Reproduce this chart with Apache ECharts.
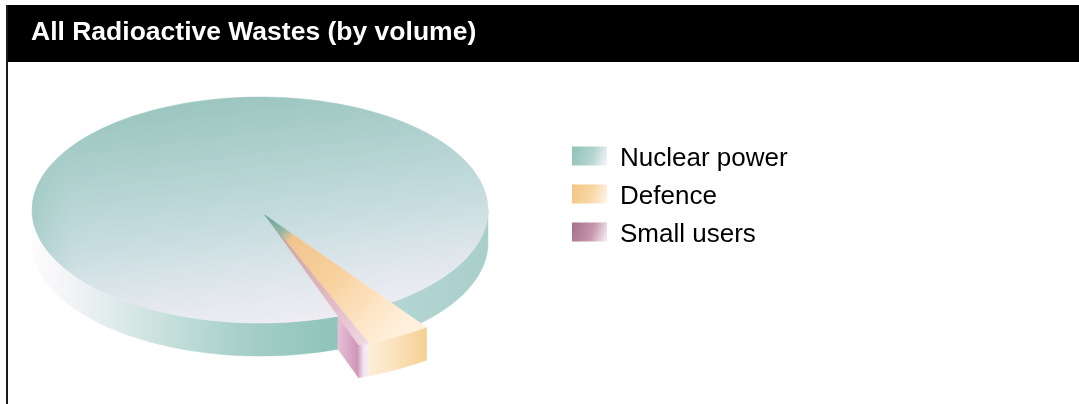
<!DOCTYPE html>
<html>
<head>
<meta charset="utf-8">
<style>html,body{margin:0;padding:0;background:#fff}#chart{width:1079px;height:404px}</style>
<script src="https://cdn.jsdelivr.net/npm/echarts@6/dist/echarts.min.js"></script>
</head>
<body>
<div id="chart"></div>
<script>
// Share of radioactive waste volume, in percent
const categories = ['Nuclear power', 'Defence', 'Small users'];
const volumes = [95.6, 3.8, 0.6];
const chartTitle = 'All Radioactive Wastes (by volume)';

// Tilted disc geometry
const DISC = { cx: 260, cy: 210, rx: 228, ry: 113, depth: 33 };
const APEX = { x: 265, y: 215 };
const START_ANGLE = 54.5;      // where the Defence slice begins, degrees clockwise from east
const EXPLODE = 1.22;          // outer radius of the two pulled-out slices

const rad = d => d * Math.PI / 180;
const total = volumes.reduce((a, b) => a + b, 0);
const sweep = v => v / total * 360;

const defenceFrom = START_ANGLE;
const defenceTo = defenceFrom + sweep(volumes[1]);
const smallTo = defenceTo + sweep(volumes[2]);

// Point on the exploded outer edge, measured around the apex
const outerPoint = a => [
  APEX.x + DISC.rx * EXPLODE * Math.cos(rad(a)),
  APEX.y + DISC.ry * EXPLODE * Math.sin(rad(a))
];
// Where a ray from the apex leaves the disc, as a point on the rim
const rimPoint = a => {
  const ax = (APEX.x - DISC.cx) / DISC.rx, ay = (APEX.y - DISC.cy) / DISC.ry;
  const dx = Math.cos(rad(a)), dy = Math.sin(rad(a));
  const b = ax * dx + ay * dy, c = ax * ax + ay * ay - 1;
  const t = -b + Math.sqrt(b * b - c);
  return [DISC.cx + DISC.rx * (ax + t * dx), DISC.cy + DISC.ry * (ay + t * dy)];
};
const rimAngle = a => {
  const p = rimPoint(a);
  return Math.atan2((p[1] - DISC.cy) / DISC.ry, (p[0] - DISC.cx) / DISC.rx) * 180 / Math.PI;
};
const arc = (from, to, dy) => {
  const pts = [], n = Math.max(2, Math.ceil(Math.abs(to - from) / 2));
  for (let i = 0; i <= n; i++) {
    const a = rad(from + (to - from) * i / n);
    pts.push([DISC.cx + DISC.rx * Math.cos(a), DISC.cy + dy + DISC.ry * Math.sin(a)]);
  }
  return pts;
};
const down = p => [p[0], p[1] + DISC.depth];
const stops = list => list.map(s => ({ offset: s[0], color: s[1] }));
const grad = (x, y, x2, y2, list) => ({ type: 'linear', global: true, x, y, x2, y2, colorStops: stops(list) });
const poly = (points, fill) => ({ type: 'polygon', shape: { points }, style: { fill, stroke: fill, lineWidth: 0.5 } });

// Rim band between two angles on the near side of the disc
const rimBand = (from, to, fill) => {
  const top = arc(from, to, 0), bottom = arc(to, from, DISC.depth);
  return poly(top.concat(bottom), fill);
};

const sideFill = grad(32, 0, 487, 0, [
  [0, '#fcfcfd'], [0.08, '#f4f4f7'], [0.2, '#dbe9e8'], [0.45, '#a8d0c9'],
  [0.66, '#8fc4bb'], [0.8, '#b4d5d3'], [1, '#a9cfcb']
]);
const faceFill = grad(235, 97, 265, 325, [
  [0, '#9cc6c0'], [0.3, '#b2d2d0'], [0.55, '#c6dcde'], [0.85, '#e3e8ee'], [1, '#ededf2']
]);
const faceEdgeFill = grad(32, 0, 487, 0, [
  [0, 'rgba(150,198,190,0.55)'], [0.1, 'rgba(170,208,203,0)'], [1, 'rgba(170,208,203,0)']
]);

const tip = [APEX.x, APEX.y];
const tipDir = outerPoint((defenceFrom + smallTo) / 2);
const defenceTopFill = grad(APEX.x, APEX.y, tipDir[0], tipDir[1], [
  [0, '#5f9f96'], [0.13, '#8fb8a5'], [0.2, '#f0c48f'], [0.5, '#f8d09a'], [0.8, '#fde4c4'], [1, '#fef0dc']
]);
const smallTopFill = grad(APEX.x, APEX.y, tipDir[0], tipDir[1], [
  [0, '#5f9f96'], [0.2, '#cfa7a0'], [0.6, '#e2b8c6'], [1, '#f3e0ea']
]);

// Each slice is drawn from its share of the total
function renderNuclear() {
  const from = rimAngle(smallTo), to = rimAngle(defenceFrom) + 360;
  const top = [tip].concat(arc(from, to, 0));
  return {
    type: 'group',
    children: [
      rimBand(0, rimAngle(defenceFrom), sideFill),
      rimBand(from, 180, sideFill),
      poly(top, faceFill),
      { type: 'polygon', shape: { points: top }, style: { fill: faceEdgeFill } }
    ]
  };
}
function renderDefence() {
  const outer = [];
  for (let i = 0; i <= 6; i++) outer.push(outerPoint(defenceFrom + (defenceTo - defenceFrom) * i / 6));
  const a = outer[0], b = outer[outer.length - 1];
  return {
    type: 'group',
    children: [
      poly(outer.concat(outer.slice().reverse().map(down)),
        grad(b[0], 0, a[0], 0, [[0, '#fdeed8'], [0.45, '#fbe3bd'], [1, '#f4cf92']])),
      poly([tip].concat(outer), defenceTopFill)
    ]
  };
}
function renderSmall() {
  const d = outerPoint(smallTo), f = outerPoint(defenceTo), r = rimPoint(smallTo);
  return {
    type: 'group',
    children: [
      poly([r, d, down(d), down(r)], grad(r[0], 0, d[0], 0, [[0, '#e7bfd8'], [1, '#cf94b8']])),
      poly([d, f, down(f), down(d)], grad(d[0], 0, f[0], 0, [[0, '#d7a5c5'], [0.5, '#f3e4ef'], [1, '#f7eef4']])),
      poly([tip, f, d], smallTopFill)
    ]
  };
}

const swatch = (a, b, c) => ({
  type: 'linear', x: 0, y: 0, x2: 1, y2: 0.6,
  colorStops: stops([[0, a], [0.6, b], [1, c]])
});
const swatches = [
  swatch('#8fc2b9', '#b4d4cf', '#eef0f4'),
  swatch('#f4c47f', '#f8d8a8', '#fdf2e4'),
  swatch('#a76f89', '#c596ad', '#f3e6ec')
];
const renderers = [renderNuclear, renderDefence, renderSmall];

const LABEL_FONT = '"Liberation Sans", Arial, sans-serif';

const chart = echarts.init(document.getElementById('chart'), null, { renderer: 'canvas' });
chart.setOption({
  animation: false,
  backgroundColor: '#ffffff',
  title: {
    text: chartTitle,
    left: 31, top: 20,
    padding: 0,
    textStyle: { color: '#ffffff', fontFamily: LABEL_FONT, fontWeight: 'bold', fontSize: 26.5, lineHeight: 26 }
  },
  legend: {
    orient: 'vertical',
    left: 572, top: 146,
    padding: 0,
    itemWidth: 35, itemHeight: 19, itemGap: 12,
    selectedMode: false,
    icon: 'rect',
    formatter: name => '{label|' + name + '}',
    textStyle: {
      rich: {
        label: { color: '#000000', fontFamily: LABEL_FONT, fontSize: 26, padding: [6, 0, 0, 8] }
      }
    },
    data: categories.map((name, i) => ({ name, itemStyle: { color: swatches[i] } }))
  },
  graphic: [
    { type: 'rect', z: -1, shape: { x: 7, y: 5, width: 1072, height: 57 }, style: { fill: '#000000' } },
    { type: 'rect', z: -1, shape: { x: 6, y: 5, width: 2, height: 399 }, style: { fill: '#1a1a1a' } }
  ],
  series: categories.map((name, i) => ({
    type: 'custom',
    name,
    coordinateSystem: 'none',
    silent: true,
    z: 2 + i,
    data: [volumes[i]],
    renderItem: renderers[i]
  }))
});
</script>
</body>
</html>
